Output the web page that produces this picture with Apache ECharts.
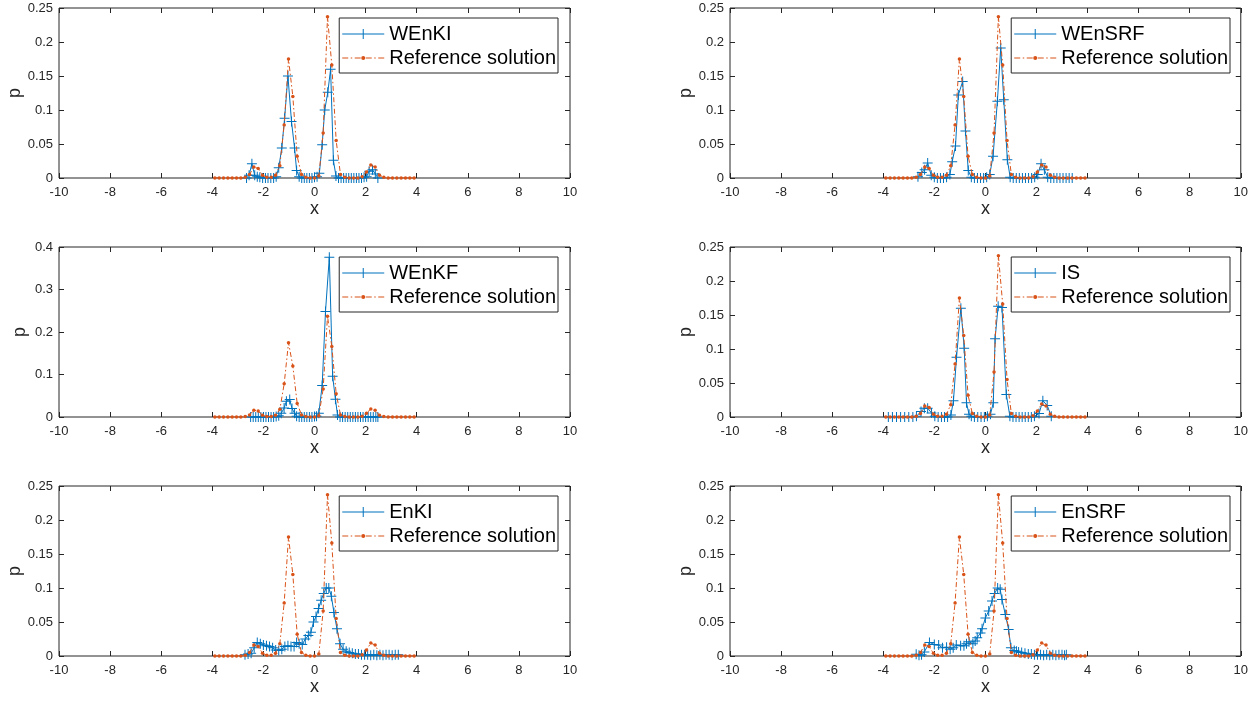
<!DOCTYPE html>
<html>
<head>
<meta charset="utf-8">
<title>p(x): weighted ensemble filters vs reference</title>
<script src="https://cdn.jsdelivr.net/npm/echarts@6/dist/echarts.min.js"></script>
<style>
html, body { margin: 0; padding: 0; background: #fff; }
#main { width: 1251px; height: 704px; }
</style>
</head>
<body>
<div id="main"></div>
<script>
// reference solution, same curve in every panel
var refX = [-3.9, -3.73, -3.561, -3.391, -3.222, -3.052, -2.883, -2.713, -2.543, -2.374,
            -2.204, -2.035, -1.865, -1.696, -1.526, -1.357, -1.187, -1.017, -0.848, -0.678,
            -0.509, -0.339, -0.17, 0, 0.17, 0.339, 0.509, 0.678, 0.848, 1.017,
            1.187, 1.357, 1.526, 1.696, 1.865, 2.035, 2.204, 2.374, 2.543, 2.713,
            2.883, 3.052, 3.222, 3.391, 3.561, 3.73, 3.9];
var refP = [0, 0, 0, 0, 0, 0, 0, 0.001, 0.005, 0.016,
            0.014, 0.004, 0.001, 0.001, 0.004, 0.018, 0.078, 0.175, 0.12, 0.032,
            0.005, 0.001, 0, 0, 0.003, 0.066, 0.237, 0.166, 0.055, 0.005,
            0.001, 0, 0, 0, 0.002, 0.009, 0.019, 0.016, 0.004, 0.001,
            0, 0, 0, 0, 0, 0, 0];

var wenkiX = [-2.66, -2.56, -2.45, -2.34, -2.24, -2.14, -2.03, -1.92, -1.82, -1.71,
              -1.6, -1.5, -1.4, -1.28, -1.17, -1.04, -0.9, -0.78, -0.7, -0.6,
              -0.5, -0.4, -0.3, -0.2, -0.1, 0.0, 0.1, 0.19, 0.3, 0.4,
              0.52, 0.63, 0.74, 0.84, 0.94, 1.04, 1.14, 1.24, 1.34, 1.44,
              1.54, 1.64, 1.74, 1.84, 1.94, 2.04, 2.14, 2.27, 2.38, 2.48];
var wenkiP = [0, 0.004, 0.021, 0.004, 0.002, 0.001, 0, 0, 0, 0,
              0, 0.002, 0.015, 0.044, 0.088, 0.15, 0.083, 0.044, 0.011, 0.002,
              0, 0, 0, 0, 0, 0.001, 0.002, 0.007, 0.049, 0.1,
              0.126, 0.16, 0.026, 0.003, 0, 0, 0, 0, 0, 0,
              0, 0, 0, 0, 0.001, 0.002, 0.01, 0.012, 0.006, 0];

var wensrfX = [-2.64, -2.49, -2.38, -2.26, -2.12, -2.0, -1.88, -1.76, -1.64, -1.52,
               -1.39, -1.3, -1.17, -1.06, -0.89, -0.78, -0.67, -0.55, -0.43, -0.31,
               -0.19, -0.07, 0.05, 0.17, 0.3, 0.47, 0.6, 0.72, 0.86, 0.97,
               1.09, 1.21, 1.33, 1.45, 1.57, 1.69, 1.81, 1.93, 2.05, 2.18,
               2.31, 2.44, 2.56, 2.68, 2.8, 2.92, 3.04, 3.16, 3.28, 3.4];
var wensrfP = [0.002, 0.008, 0.012, 0.022, 0.004, 0.001, 0, 0, 0, 0.001,
               0.005, 0.024, 0.047, 0.122, 0.142, 0.069, 0.011, 0.001, 0, 0,
               0, 0, 0.001, 0.005, 0.032, 0.113, 0.191, 0.115, 0.027, 0.001,
               0, 0, 0, 0, 0, 0, 0, 0.001, 0.005, 0.021,
               0.012, 0.001, 0, 0, 0, 0, 0, 0, 0, 0];

var wenkfX = [-2.5, -2.4, -2.3, -2.2, -2.1, -2.0, -1.9, -1.8, -1.7, -1.6,
              -1.5, -1.4, -1.3, -1.19, -1.1, -0.97, -0.88, -0.78, -0.7, -0.6,
              -0.5, -0.4, -0.3, -0.2, -0.1, 0.0, 0.08, 0.17, 0.3, 0.43,
              0.58, 0.71, 0.82, 0.9, 1.0, 1.1, 1.2, 1.3, 1.4, 1.5,
              1.6, 1.7, 1.8, 1.9, 2.0, 2.1, 2.2, 2.3, 2.4, 2.48];
var wenkfP = [0, 0, 0, 0, 0, 0, 0, 0, 0, 0,
              0.001, 0.003, 0.009, 0.021, 0.037, 0.041, 0.02, 0.009, 0.002, 0,
              0, 0, 0, 0, 0, 0.001, 0.002, 0.009, 0.074, 0.248,
              0.376, 0.096, 0.042, 0.005, 0, 0, 0, 0, 0, 0,
              0, 0, 0, 0, 0, 0, 0, 0, 0, 0];

var isX = [-3.8, -3.64, -3.48, -3.32, -3.16, -3.0, -2.84, -2.7, -2.52, -2.39,
           -2.26, -2.11, -1.98, -1.85, -1.72, -1.6, -1.48, -1.35, -1.25, -1.13,
           -0.96, -0.83, -0.74, -0.64, -0.55, -0.43, -0.3, -0.17, -0.04, 0.08,
           0.2, 0.31, 0.38, 0.5, 0.65, 0.82, 0.96, 1.08, 1.2, 1.32,
           1.44, 1.56, 1.68, 1.8, 1.92, 2.1, 2.25, 2.42, 2.58];
var isP = [0, 0, 0, 0, 0, 0, 0, 0.001, 0.008, 0.013,
           0.013, 0.006, 0.001, 0, 0, 0, 0, 0.003, 0.024, 0.088,
           0.16, 0.101, 0.021, 0.004, 0.001, 0, 0, 0, 0, 0.001,
           0.004, 0.021, 0.115, 0.163, 0.161, 0.033, 0.001, 0, 0, 0,
           0, 0, 0, 0, 0.001, 0.005, 0.024, 0.017, 0.001];

var enkiX = [-2.72, -2.6, -2.48, -2.36, -2.24, -2.12, -2.0, -1.88, -1.76, -1.64,
             -1.52, -1.4, -1.28, -1.16, -1.04, -0.92, -0.8, -0.7, -0.6, -0.48,
             -0.36, -0.24, -0.14, -0.04, 0.06, 0.16, 0.26, 0.36, 0.46, 0.56,
             0.66, 0.76, 0.88, 1.0, 1.12, 1.24, 1.36, 1.48, 1.6, 1.72,
             1.84, 1.96, 2.08, 2.2, 2.32, 2.44, 2.56, 2.68, 2.8, 2.92,
             3.04, 3.16, 3.28];
var enkiP = [0.002, 0.003, 0.004, 0.012, 0.02, 0.018, 0.016, 0.015, 0.014, 0.012,
             0.009, 0.008, 0.01, 0.014, 0.015, 0.014, 0.014, 0.02, 0.018, 0.017,
             0.025, 0.03, 0.035, 0.05, 0.058, 0.07, 0.082, 0.092, 0.1, 0.1,
             0.088, 0.064, 0.04, 0.018, 0.01, 0.007, 0.005, 0.004, 0.003, 0.003,
             0.002, 0.002, 0.002, 0.001, 0.002, 0.001, 0.002, 0.001, 0.002, 0.002,
             0.001, 0.002, 0.002];

var ensrfX = [-2.71, -2.6, -2.5, -2.39, -2.19, -2.0, -1.83, -1.68, -1.52, -1.38,
              -1.26, -1.14, -0.97, -0.84, -0.74, -0.64, -0.49, -0.4, -0.32, -0.19,
              -0.13, 0.0, 0.13, 0.26, 0.36, 0.48, 0.58, 0.65, 0.78, 0.91,
              1.0, 1.13, 1.22, 1.3, 1.42, 1.55, 1.68, 1.8, 1.92, 2.04,
              2.16, 2.28, 2.4, 2.52, 2.64, 2.76, 2.88, 3.0, 3.1, 3.17];
var ensrfP = [0.0025, 0.001, 0.002, 0.006, 0.02, 0.017, 0.016, 0.012, 0.013, 0.01,
              0.012, 0.016, 0.015, 0.015, 0.018, 0.021, 0.018, 0.022, 0.027, 0.034,
              0.04, 0.056, 0.066, 0.081, 0.092, 0.1, 0.098, 0.083, 0.061, 0.039,
              0.012, 0.008, 0.007, 0.006, 0.005, 0.004, 0.003, 0.003, 0.002, 0.002,
              0.002, 0.001, 0.002, 0.001, 0.002, 0.001, 0.002, 0.002, 0.001, 0.002];

// panel order: row by row, left then right
var names = ['WEnKI', 'WEnSRF', 'WEnKF', 'IS', 'EnKI', 'EnSRF'];
var xsList = [wenkiX, wensrfX, wenkfX, isX, enkiX, ensrfX];
var psList = [wenkiP, wensrfP, wenkfP, isP, enkiP, ensrfP];
var yMaxList = [0.25, 0.25, 0.4, 0.25, 0.25, 0.25];
var yStepList = [0.05, 0.05, 0.1, 0.05, 0.05, 0.05];

var FONT = '"Liberation Sans", Arial, Helvetica, sans-serif';
var TXT = '#262626';
var BLUE = '#0072BD';
var ORANGE = '#D95319';
var PLUS = 'path://M0,4.5H10V5.5H0Z M4.5,0H5.5V10H4.5Z';
var LEG_PLUS = 'path://M0,4.5H42V5.5H0Z M20.5,0H21.5V10H20.5Z';
var LEG_REF = 'path://M0,1.5H6V2.5H0Z M8.5,1.5H10V2.5H8.5Z M12.5,1.5H18.5V2.5H12.5Z ' +
              'M19,2A2,2 0 1 1 23,2A2,2 0 1 1 19,2Z M23.5,1.5H29.5V2.5H23.5Z ' +
              'M32,1.5H33.5V2.5H32Z M36,1.5H42V2.5H36Z';

var colLeft = [59, 730];
var legRight = [693, 21];
var rowTop = [8, 247, 486];
var W = 511, H = 170;

function pairs(xs, ys) {
	return xs.map(function (x, k) { return [x, ys[k]]; });
}

var grids = [], xAxes = [], yAxes = [], series = [], legends = [];
var tick = { inside: true, length: 5, lineStyle: { color: TXT, width: 1 } };
var noLine = { show: false, onZero: false };
var lbl = { fontFamily: FONT, fontSize: 13, color: TXT };

names.forEach(function (nm, i) {
	var r = Math.floor(i / 2), c = i % 2;
	grids.push({
		left: colLeft[c], top: rowTop[r], width: W, height: H,
		show: true, borderColor: TXT, borderWidth: 1, backgroundColor: 'transparent'
	});
	xAxes.push({
		gridIndex: i, type: 'value', min: -10, max: 10, interval: 2, position: 'bottom',
		name: 'x', nameLocation: 'middle', nameGap: 15,
		nameTextStyle: { fontFamily: FONT, fontSize: 18, color: TXT },
		axisLine: noLine, axisTick: tick, splitLine: { show: false },
		axisLabel: Object.assign({ margin: 8 }, lbl)
	});
	xAxes.push({
		gridIndex: i, type: 'value', min: -10, max: 10, interval: 2, position: 'top',
		axisLine: noLine, axisTick: tick, splitLine: { show: false },
		axisLabel: { show: false }
	});
	yAxes.push({
		gridIndex: i, type: 'value', min: 0, max: yMaxList[i], interval: yStepList[i], position: 'left',
		name: 'p', nameLocation: 'middle', nameGap: 30,
		nameTextStyle: { fontFamily: FONT, fontSize: 18, color: TXT },
		axisLine: noLine, axisTick: tick, splitLine: { show: false },
		axisLabel: Object.assign({ margin: 6 }, lbl)
	});
	yAxes.push({
		gridIndex: i, type: 'value', min: 0, max: yMaxList[i], interval: yStepList[i], position: 'right',
		axisLine: noLine, axisTick: tick, splitLine: { show: false },
		axisLabel: { show: false }
	});
	series.push({
		type: 'line', name: nm, xAxisIndex: 2 * i, yAxisIndex: 2 * i,
		data: pairs(xsList[i], psList[i]),
		symbol: PLUS, symbolSize: 10, showAllSymbol: true,
		itemStyle: { color: BLUE, borderWidth: 0 },
		lineStyle: { color: BLUE, width: 1 },
		emphasis: { disabled: true }, z: 2
	});
	series.push({
		type: 'line', name: 'Reference solution', xAxisIndex: 2 * i, yAxisIndex: 2 * i,
		data: pairs(refX, refP),
		symbol: 'circle', symbolSize: 3.5, showAllSymbol: true,
		itemStyle: { color: ORANGE, borderWidth: 0 },
		lineStyle: { color: ORANGE, width: 1, type: [5, 2.5, 1.5, 2.5] },
		emphasis: { disabled: true }, z: 3
	});
	legends.push({
		orient: 'vertical', right: legRight[c], top: rowTop[r] + 10,
		data: [{ name: nm, icon: LEG_PLUS }, { name: 'Reference solution', icon: LEG_REF }],
		itemWidth: 42, itemHeight: 10, itemGap: 2,
		symbolKeepAspect: true,
		itemStyle: { borderWidth: 0 },
		backgroundColor: '#fff', borderColor: TXT, borderWidth: 1, borderRadius: 0,
		padding: [5, 2, 4, 3],
		textStyle: { fontFamily: FONT, fontSize: 20, color: '#000', lineHeight: 22 },
		selectedMode: false
	});
});

var chart = echarts.init(document.getElementById('main'), null, { renderer: 'canvas' });
chart.setOption({
	animation: false,
	backgroundColor: '#fff',
	grid: grids,
	xAxis: xAxes,
	yAxis: yAxes,
	legend: legends,
	series: series
});
</script>
</body>
</html>
